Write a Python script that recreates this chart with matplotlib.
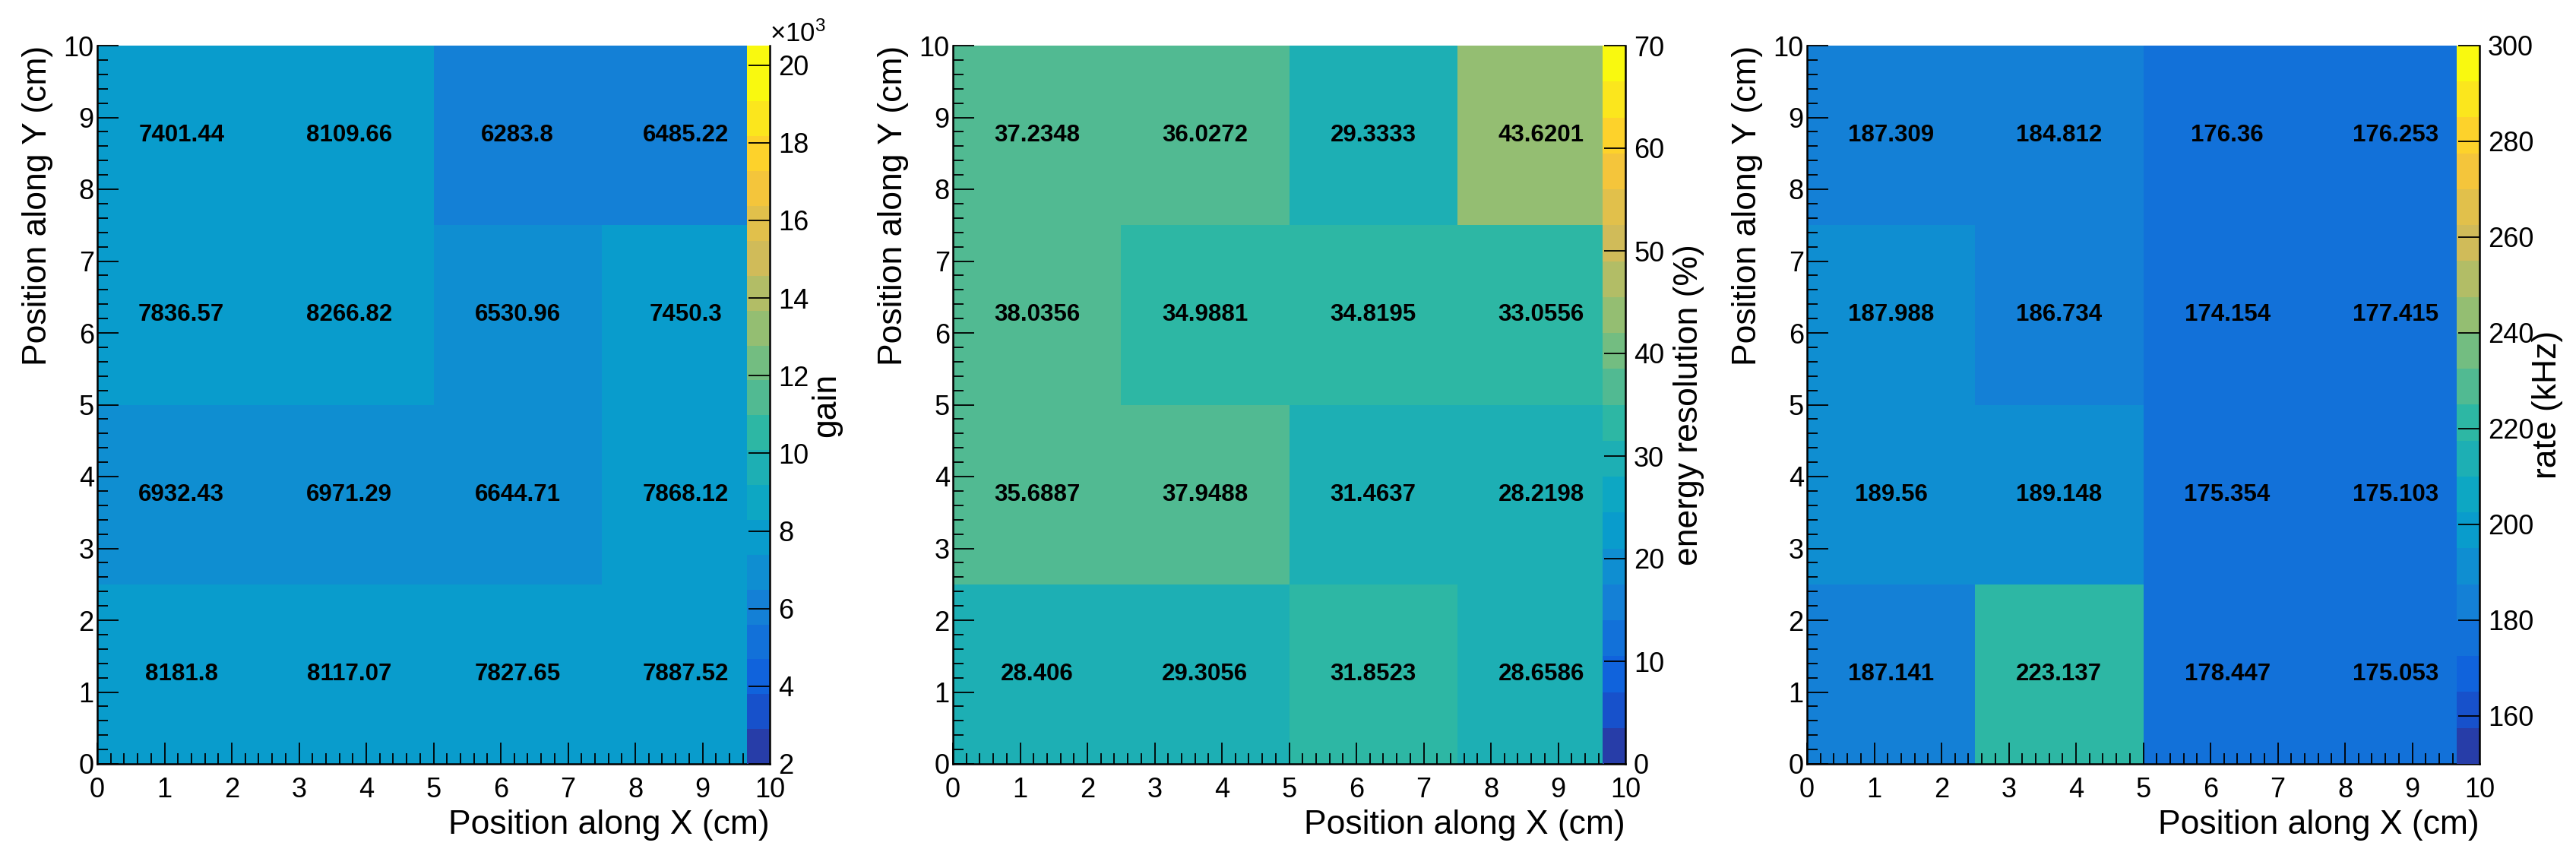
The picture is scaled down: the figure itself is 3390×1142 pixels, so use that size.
import matplotlib
matplotlib.use("Agg")
import matplotlib.pyplot as plt
from matplotlib.colors import ListedColormap, BoundaryNorm
from matplotlib.ticker import MultipleLocator, FuncFormatter
import numpy as np

plt.rcParams["font.family"] = "Liberation Sans"
plt.rcParams["mathtext.fontset"] = "custom"
plt.rcParams["mathtext.rm"] = "Liberation Sans"
plt.rcParams["mathtext.it"] = "Liberation Sans:italic"

x_edges = [0, 2.5, 5, 7.5, 10]
y_edges = [0, 2.5, 5, 7.5, 10]

# rows go from the bottom strip (y 0-2.5) up to the top strip
gain = np.array([
    [8181.8, 8117.07, 7827.65, 7887.52],
    [6932.43, 6971.29, 6644.71, 7868.12],
    [7836.57, 8266.82, 6530.96, 7450.3],
    [7401.44, 8109.66, 6283.8, 6485.22],
])
resolution = np.array([
    [28.406, 29.3056, 31.8523, 28.6586],
    [35.6887, 37.9488, 31.4637, 28.2198],
    [38.0356, 34.9881, 34.8195, 33.0556],
    [37.2348, 36.0272, 29.3333, 43.6201],
])
rate = np.array([
    [187.141, 223.137, 178.447, 175.053],
    [189.56, 189.148, 175.354, 175.103],
    [187.988, 186.734, 174.154, 177.415],
    [187.309, 184.812, 176.36, 176.253],
])

gain_levels = np.append(2000 + 898 * np.arange(20), 20500)
resolution_levels = np.linspace(0, 70, 21)
rate_levels = np.linspace(150, 300, 21)

gain_ticks = np.arange(2000, 20001, 2000)
resolution_ticks = np.arange(0, 71, 10)
rate_ticks = np.arange(160, 301, 20)

z_titles = ["gain", "energy resolution (%)", "rate (kHz)"]

# ROOT kBird palette
bird_stops = [0.0, 0.125, 0.25, 0.375, 0.5, 0.625, 0.75, 0.875, 1.0]
bird_r = [0.2082, 0.0592, 0.0780, 0.0232, 0.1802, 0.5301, 0.8186, 0.9956, 0.9764]
bird_g = [0.1664, 0.3599, 0.5041, 0.6419, 0.7178, 0.7492, 0.7328, 0.7862, 0.9832]
bird_b = [0.5293, 0.8684, 0.8385, 0.7914, 0.6425, 0.4662, 0.3499, 0.1968, 0.0539]


def band_cmap(ncont=20, ncolors=255):
    # ROOT colours contour band i with palette entry int((i + 0.99) * ncolors / ncont)
    cols = []
    for i in range(ncont):
        f = int((i + 0.99) * ncolors / ncont) / ncolors
        cols.append((np.interp(f, bird_stops, bird_r),
                     np.interp(f, bird_stops, bird_g),
                     np.interp(f, bird_stops, bird_b)))
    return ListedColormap(cols)


W, H = 3390, 1142
fig = plt.figure(figsize=(W / 100, H / 100), dpi=100)

lefts = [128, 1254, 2378]
title_offsets = [86, 95, 101]
frame_w = 885
bottom = (H - 1005) / H
height = 945 / H
pal_w = 30

panels = [
    (gain, gain_levels, gain_ticks, True),
    (resolution, resolution_levels, resolution_ticks, False),
    (rate, rate_levels, rate_ticks, False),
]

for left, (data, levels, zticks, kilo), ztitle, toff in zip(lefts, panels, z_titles, title_offsets):
    ax = fig.add_axes([left / W, bottom, frame_w / W, height])
    cmap = band_cmap()
    norm = BoundaryNorm(levels, cmap.N)
    mesh = ax.pcolormesh(x_edges, y_edges, data, cmap=cmap, norm=norm)

    for j in range(4):
        for i in range(4):
            xc = (x_edges[i] + x_edges[i + 1]) / 2
            yc = (y_edges[j] + y_edges[j + 1]) / 2
            ax.text(xc, yc, f"{data[j, i]:g}", ha="center", va="center",
                    fontsize=22.5, fontweight="bold", color="black")

    ax.set_xlim(0, 10)
    ax.set_ylim(0, 10)
    ax.xaxis.set_major_locator(MultipleLocator(1))
    ax.xaxis.set_minor_locator(MultipleLocator(0.2))
    ax.yaxis.set_major_locator(MultipleLocator(1))
    ax.yaxis.set_minor_locator(MultipleLocator(0.2))
    ax.tick_params(which="both", direction="in", top=False, right=False,
                   width=1.3, color="black")
    ax.tick_params(which="major", length=20, labelsize=26)
    ax.tick_params(which="minor", length=10)
    ax.tick_params(axis="x", pad=12)
    ax.tick_params(axis="y", pad=3)
    for s in ["top", "right"]:
        ax.spines[s].set_visible(False)
    for s in ["left", "bottom"]:
        ax.spines[s].set_linewidth(1.8)

    ax.set_xlabel("Position along X (cm)", fontsize=32, loc="right")
    ax.xaxis.set_label_coords(1.0, -0.064)
    ax.set_ylabel("Position along Y (cm)", fontsize=32, loc="top")
    ax.yaxis.set_label_coords(-0.066, 1.0)

    cax = fig.add_axes([(left + frame_w - pal_w) / W, bottom, pal_w / W, height])
    cb = fig.colorbar(mesh, cax=cax, spacing="proportional", ticks=zticks)
    cb.outline.set_visible(False)
    cax.set_ylim(levels[0], levels[-1])
    cax.tick_params(which="major", direction="in", length=20, width=1.3,
                    labelsize=26, pad=8)
    cax.tick_params(which="minor", length=0)
    cax.plot([1, 1], [0, 1], transform=cax.transAxes, color="black",
             lw=1.8, clip_on=False)
    if kilo:
        cax.yaxis.set_major_formatter(FuncFormatter(lambda v, p: f"{v / 1000:g}"))
        cax.text(1.0, 1.005, r"$\times10^{3}$", transform=cax.transAxes,
                 ha="left", va="baseline", fontsize=25)
    cax.text(1 + toff / pal_w, 0.5, ztitle, transform=cax.transAxes, rotation=90,
             rotation_mode="anchor", ha="center", va="baseline", fontsize=32)

fig.savefig("out.png", dpi=100)
